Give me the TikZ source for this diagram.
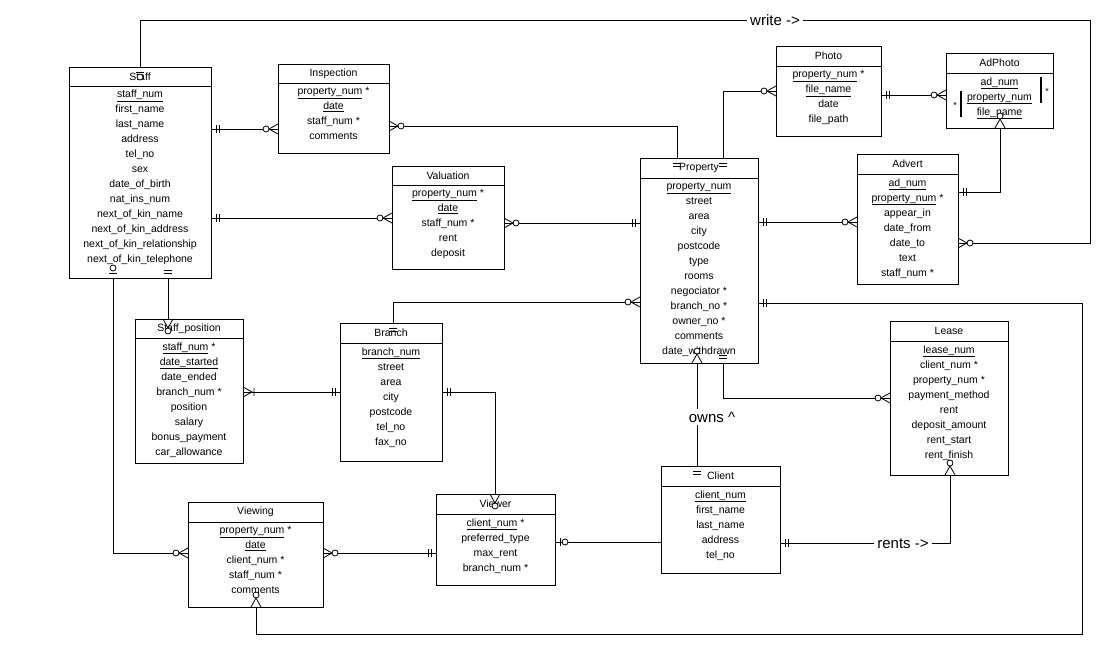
\documentclass[tikz,border=0pt]{standalone}
\usepackage{fontspec}
\setmainfont{Liberation Sans}
\begin{document}
\begin{tikzpicture}[x=1pt,y=-1pt,line width=0.8pt,
  box/.style={draw,inner sep=0pt,anchor=north west},
  lbl/.style={font=\fontsize{15}{18}\selectfont,fill=white,inner sep=3pt}]
\useasboundingbox (0,0) rectangle (1110,655);
\newcommand\ent[8]{%
  \node[box,minimum width={#4-#2},minimum height={#6-#3}] (#1) at (#2,#3) {};
  \draw (#2,#5) -- (#4,#5);
  \node[font=\fontsize{10.5}{12}\selectfont] (#1t) at ({(#2+#4)/2},{(#3+#5)/2}) {#7};
  \node[font=\fontsize{10.5}{15}\selectfont,align=center,anchor=north,inner sep=0pt] (#1a) at ({(#2+#4)/2},{#5+4}) {#8};}
\newcommand\mk[4]{\begin{scope}[shift={(#1,#2)},rotate=#3]
  \ifcase#4
    \draw (5,-4)--(5,4) (8,-4)--(8,4);
  \or
    \draw (0,-5)--(9,0)--(0,5); \draw[fill=white] (12,0) circle (3);
  \or
    \draw (0,-5)--(9,0)--(0,5) (11,-4)--(11,4);
  \or
    \draw (5,-4)--(5,4); \draw[fill=white] (10,0) circle (3);
  \fi\end{scope}}
% entities
\ent{staff}{69}{67}{211}{86}{278}{Staff}{\underline{staff\_num}\\first\_name\\last\_name\\address\\tel\_no\\sex\\date\_of\_birth\\nat\_ins\_num\\next\_of\_kin\_name\\next\_of\_kin\_address\\next\_of\_kin\_relationship\\next\_of\_kin\_telephone}
\ent{insp}{278}{64}{389}{83}{153}{Inspection}{\underline{property\_num} *\\\underline{date}\\staff\_num *\\comments}
\ent{val}{392}{166}{504}{185}{269}{Valuation}{\underline{property\_num} *\\\underline{date}\\staff\_num *\\rent\\deposit}
\ent{prop}{640}{158}{758}{178}{363}{Property}{\underline{property\_num}\\street\\area\\city\\postcode\\type\\rooms\\negociator *\\branch\_no *\\owner\_no *\\comments\\date\_withdrawn}
\ent{photo}{776}{46}{881}{66}{136}{Photo}{\underline{property\_num} *\\\underline{file\_name}\\date\\file\_path}
\ent{adphoto}{946}{53}{1053}{73}{128}{AdPhoto}{\underline{ad\_num}\\\underline{property\_num}\\\underline{file\_name}}
\ent{advert}{857}{154}{958}{174}{284}{Advert}{\underline{ad\_num}\\\underline{property\_num} *\\appear\_in\\date\_from\\date\_to\\text\\staff\_num *}
\ent{spos}{135}{319}{243}{338}{463}{Staff\_position}{\underline{staff\_num} *\\\underline{date\_started}\\date\_ended\\branch\_num *\\position\\salary\\bonus\_payment\\car\_allowance}
\ent{branch}{340}{323}{442}{343}{461}{Branch}{\underline{branch\_num}\\street\\area\\city\\postcode\\tel\_no\\fax\_no}
\ent{lease}{890}{321}{1008}{341}{475}{Lease}{\underline{lease\_num}\\client\_num *\\property\_num *\\payment\_method\\rent\\deposit\_amount\\rent\_start\\rent\_finish}
\ent{client}{661}{466}{780}{486}{573}{Client}{\underline{client\_num}\\first\_name\\last\_name\\address\\tel\_no}
\ent{viewer}{436}{494}{555}{514}{585}{Viewer}{\underline{client\_num} *\\preferred\_type\\max\_rent\\branch\_num *}
\ent{viewing}{188}{502}{323}{522}{607}{Viewing}{\underline{property\_num} *\\\underline{date}\\client\_num *\\staff\_num *\\comments}
% AdPhoto bars
\draw[line width=2.2pt] (1041,77)--(1041,103) (961,91)--(961,117);
\node[font=\fontsize{9}{10}\selectfont,inner sep=0pt] (s1) at (1047,91) {*};
\node[font=\fontsize{9}{10}\selectfont,inner sep=0pt] (s2) at (955,105) {*};
% connectors
\draw (140,67) -- (140,20) -- (1090,20) -- (1090,243) -- (958,243);
\node[lbl] (write) at (775,20) {write ->};
\draw (211,129) -- (278,129);
\draw (389,126) -- (677,126) -- (677,158);
\draw (211,218) -- (392,218);
\draw (504,223) -- (640,223);
\draw (723,158) -- (723,91) -- (776,91);
\draw (881,95) -- (946,95);
\draw (1000,128) -- (1000,192) -- (958,192);
\draw (758,222) -- (857,222);
\draw (640,302) -- (393,302) -- (393,323);
\draw (758,303) -- (1082,303) -- (1082,634) -- (256,634) -- (256,607);
\draw (697,363) -- (697,466);
\node[lbl] (owns) at (712,417) {owns \^{}};
\draw (723,363) -- (723,398) -- (890,398);
\draw (780,543) -- (950,543) -- (950,475);
\node[lbl] (rents) at (903,544) {rents ->};
\draw (661,542) -- (555,542);
\draw (495,494) -- (495,392) -- (442,392);
\draw (243,392) -- (340,392);
\draw (168,278) -- (168,319);
\draw (113,278) -- (113,553) -- (188,553);
\draw (323,553) -- (436,553);
% markers: 0 one, 1 zero-many, 2 one-many, 3 zero-one
\mk{140}{67}{270}{3}
\mk{958}{243}{0}{1}
\mk{211}{129}{0}{0} \mk{278}{129}{180}{1}
\mk{389}{126}{0}{1} \mk{677}{158}{270}{0}
\mk{211}{218}{0}{0} \mk{392}{218}{180}{1}
\mk{504}{223}{0}{1} \mk{640}{223}{180}{0}
\mk{723}{158}{270}{0} \mk{776}{91}{180}{1}
\mk{881}{95}{0}{0} \mk{946}{95}{180}{1}
\mk{1000}{128}{90}{1} \mk{958}{192}{0}{0}
\mk{758}{222}{0}{0} \mk{857}{222}{180}{1}
\mk{640}{302}{180}{1} \mk{393}{323}{270}{0}
\mk{758}{303}{0}{0} \mk{256}{607}{90}{1}
\mk{697}{363}{90}{1} \mk{697}{466}{270}{0}
\mk{723}{363}{90}{0} \mk{890}{398}{180}{1}
\mk{780}{543}{0}{0} \mk{950}{475}{90}{1}
\mk{555}{542}{0}{3}
\mk{495}{494}{270}{1} \mk{442}{392}{0}{0}
\mk{243}{392}{0}{2} \mk{340}{392}{180}{0}
\mk{168}{278}{90}{0} \mk{168}{319}{270}{1}
\mk{113}{278}{90}{3} \mk{188}{553}{180}{1}
\mk{323}{553}{0}{1} \mk{436}{553}{180}{0}
\end{tikzpicture}
\end{document}
